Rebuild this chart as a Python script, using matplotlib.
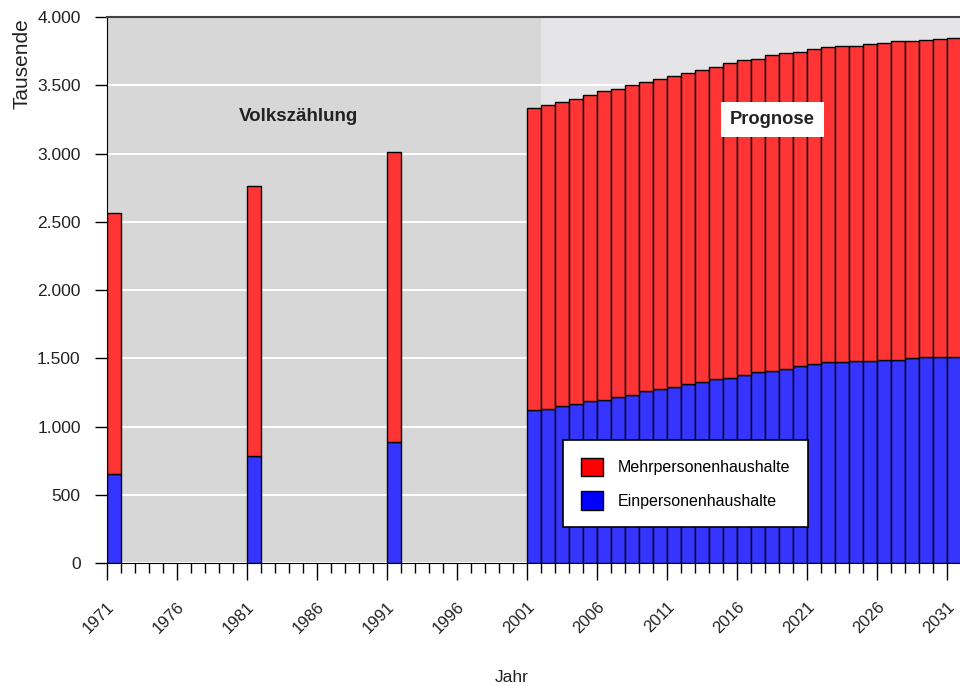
import matplotlib.pyplot as plt
import matplotlib.transforms as mtransforms
from matplotlib.patches import Patch
from matplotlib.ticker import FuncFormatter, MultipleLocator

plt.rcParams["font.family"] = ["Liberation Sans", "DejaVu Sans"]

# years shown as bars (census years + forecast)
years = [1971, 1981, 1991] + list(range(2001, 2032))

# one-person households (thousands)
einpersonen = [657, 784, 886,
               1121, 1128, 1152, 1165, 1187, 1199, 1221, 1233, 1258, 1277,
               1289, 1313, 1326, 1348, 1358, 1380, 1402, 1411, 1426, 1446,
               1460, 1473, 1473, 1482, 1482, 1492, 1492, 1504, 1507, 1514, 1514]

# multi-person households (thousands)
mehrpersonen = [1907, 1978, 2127,
                2210, 2225, 2225, 2234, 2244, 2259, 2256, 2267, 2266, 2271,
                2281, 2279, 2288, 2290, 2305, 2305, 2293, 2311, 2308, 2298,
                2306, 2305, 2317, 2308, 2320, 2320, 2332, 2320, 2329, 2324, 2332]

major_years = list(range(1971, 2032, 5))

bar_red = "#ff3535"
bar_blue = "#3535ff"
text_col = "#222222"

fig = plt.figure(figsize=(9.6, 6.86), dpi=100)
ax = fig.add_axes([0.1115, 0.179, 0.89, 0.796])

# background zones
ax.axvspan(1971, 2002, color="#d7d7d7", zorder=0, lw=0)
ax.axvspan(2002, 2032, color="#e5e5e7", zorder=0, lw=0)
ax.set_axisbelow(True)
ax.yaxis.grid(True, color="white", lw=1.5, zorder=1)

ax.bar(years, einpersonen, width=1, align="edge", color=bar_blue,
       edgecolor="black", lw=1, zorder=2)
ax.bar(years, mehrpersonen, width=1, align="edge", bottom=einpersonen,
       color=bar_red, edgecolor="black", lw=1, zorder=2)

ax.set_xlim(1971, 2032)
ax.set_ylim(0, 4000)

# x ticks: labels drawn as rotated text, nudged right of the tick like the original
ax.set_xticks(major_years)
ax.set_xticklabels([])
ax.xaxis.set_minor_locator(MultipleLocator(1))
ax.tick_params(axis="x", which="major", length=12, width=1)
ax.tick_params(axis="x", which="minor", length=7, width=1)
lbl_trans = ax.get_xaxis_transform() + mtransforms.ScaledTranslation(
    5 / 100, -41 / 100, fig.dpi_scale_trans)
for y in major_years:
    ax.text(y, 0, str(y), transform=lbl_trans, rotation=45, rotation_mode="anchor",
            ha="right", va="center", fontsize=12, color=text_col, clip_on=False)

ax.yaxis.set_major_locator(MultipleLocator(500))
ax.yaxis.set_major_formatter(FuncFormatter(lambda v, p: f"{int(v):,}".replace(",", ".")))
ax.tick_params(axis="y", length=9, width=1, pad=10, labelsize=12.5, labelcolor=text_col)

ax.spines["right"].set_visible(False)
ax.spines["top"].set_color("#444444")
ax.spines["top"].set_linewidth(1.5)

ax.text(0.224, 0.818, "Volkszählung", transform=ax.transAxes, ha="center",
        va="center", fontsize=13.5, fontweight="bold", color=text_col)
ax.text(0.779, 0.813, "Prognose", transform=ax.transAxes, ha="center",
        va="center", fontsize=13.2, fontweight="bold", color=text_col, zorder=5,
        bbox=dict(boxstyle="square,pad=0.5", facecolor="white", edgecolor="none"))

fig.text(0.023, 0.907, "Tausende", rotation=90, ha="center", va="center",
         fontsize=15, color=text_col)
fig.text(0.533, 0.012, "Jahr", ha="center", va="center", fontsize=12.5, color=text_col)

handles = [Patch(facecolor="#ff0000", edgecolor="black", label="Mehrpersonenhaushalte"),
           Patch(facecolor="#0000ff", edgecolor="black", label="Einpersonenhaushalte")]
leg = ax.legend(handles=handles, loc="lower left", bbox_to_anchor=(0.534, 0.066),
                fontsize=11.5, frameon=True, fancybox=False, framealpha=1,
                edgecolor="black", handlelength=1.4, handleheight=1.4,
                borderpad=1.1, labelspacing=0.95, handletextpad=0.9,
                borderaxespad=0)
leg.get_frame().set_linewidth(1.2)
leg.set_zorder(6)

fig.savefig("out.png", dpi=100)
